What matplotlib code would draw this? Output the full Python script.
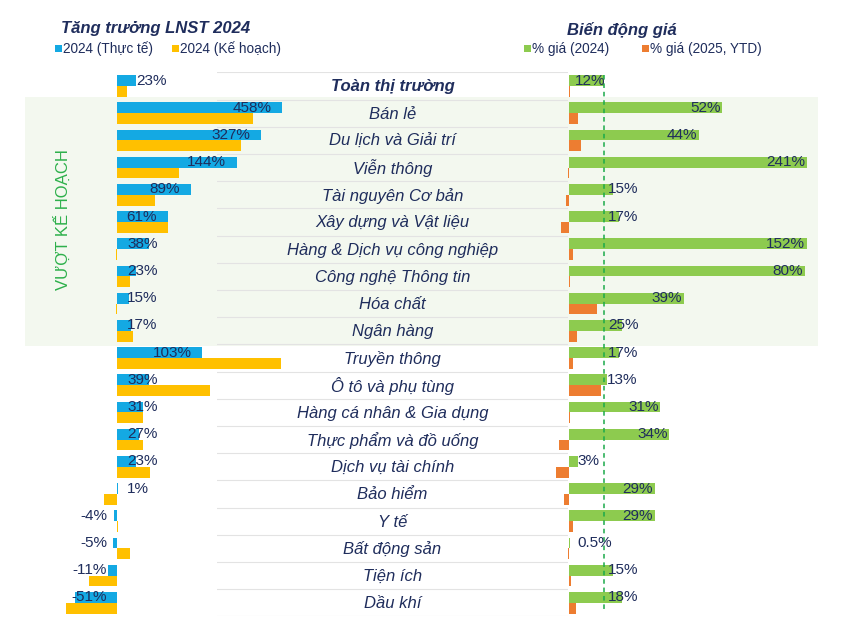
import matplotlib
matplotlib.use('Agg')
import matplotlib.pyplot as plt
from matplotlib.patches import Rectangle
import numpy as np

plt.rcParams['font.family'] = ['Liberation Sans', 'DejaVu Sans']

NAVY = '#1F2D5C'
BLUE = '#14A9E3'
YELLOW = '#FFC000'
GREEN = '#8DCB4F'
ORANGE = '#ED7D31'
BG = '#F3F8EF'

sectors = ['Toàn thị trường', 'Bán lẻ', 'Du lịch và Giải trí', 'Viễn thông', 'Tài nguyên Cơ bản',
           'Xây dựng và Vật liệu', 'Hàng & Dịch vụ công nghiệp', 'Công nghệ Thông tin', 'Hóa chất',
           'Ngân hàng', 'Truyền thông', 'Ô tô và phụ tùng', 'Hàng cá nhân & Gia dụng',
           'Thực phẩm và đồ uống', 'Dịch vụ tài chính', 'Bảo hiểm', 'Y tế', 'Bất động sản',
           'Tiện ích', 'Dầu khí']

# LNST growth 2024: labels and drawn bar lengths (the two largest are shortened in the source)
lnst_actual_label = ['23%', '458%', '327%', '144%', '89%', '61%', '38%', '23%', '15%', '17%',
                     '103%', '39%', '31%', '27%', '23%', '1%', '-4%', '-5%', '-11%', '-51%']
lnst_actual = [23, 199, 174, 144, 89, 61, 38, 23, 15, 17, 103, 39, 31, 27, 23, 1, -4, -5, -11, -51]
lnst_plan = [12, 164, 149, 75, 46, 61, -1, 16, -1, 19, 198, 112, 31, 31, 40, -16, 1, 16, -34, -61]

# price change
gia_2024_label = ['12%', '52%', '44%', '241%', '15%', '17%', '152%', '80%', '39%', '25%',
                  '17%', '13%', '31%', '34%', '3%', '29%', '29%', '0.5%', '15%', '18%']
gia_2024 = [12, 52, 44, 241, 15, 17, 152, 80, 39, 18, 17, 13, 31, 34, 3, 29, 29, 0.5, 15, 18]
gia_2025 = [0.3, 3, 4, -0.3, -1, -2.7, 1.4, 0.2, 9.5, 2.7, 1.3, 11, 0.2, -3.4, -4.4, -1.7, 1.2, -0.5, 0.7, 2.4]

W, H = 864, 625
fig = plt.figure(figsize=(W / 100, H / 100), dpi=100)

n = len(sectors)
y = np.arange(n)
row_h = 27.2
top_px = 86 - 0.5 * row_h
bot_px = 86 + (n - 0.5) * row_h


def px_ax(x0, x1):
    return fig.add_axes([x0 / W, 1 - bot_px / H, (x1 - x0) / W, (bot_px - top_px) / H])


def fy(v):  # row units -> figure fraction
    return 1 - (86 + v * row_h) / H


# green "vượt kế hoạch" band
fig.patches.append(Rectangle((25 / W, fy(9.55)), (818 - 25) / W, fy(0.4) - fy(9.55),
                             transform=fig.transFigure, facecolor=BG, edgecolor='none', zorder=-5))

# middle axis for separators and category names
axm = px_ax(217, 568)
axm.set_xlim(0, 1)
axm.set_ylim(n - 0.5, -0.5)
axm.axis('off')
for k in range(n + 1):
    axm.axhline(k - 0.5, color='#E3E3E3', lw=0.8)
for i, s in enumerate(sectors):
    axm.text(0.5, i + 0.03, s, ha='center', va='center', fontsize=12, style='italic', color=NAVY,
             fontweight='bold' if i == 0 else 'normal')

# left panel
axl = px_ax(40, 300)
axl.set_xlim((40 - 117) / 0.83, (300 - 117) / 0.83)
axl.set_ylim(n - 0.5, -0.5)
axl.axis('off')
axl.barh(y - 0.2, lnst_actual, height=0.4, color=BLUE)
axl.barh(y + 0.2, lnst_plan, height=0.4, color=YELLOW)
for i, (v, lab) in enumerate(zip(lnst_actual, lnst_actual_label)):
    if i == 0:
        axl.text(v + 0.5, i - 0.2, lab, ha='left', va='center', fontsize=11, color=NAVY)
    elif v < 0:
        axl.text(-12, i - 0.2, lab, ha='right', va='center', fontsize=11, color=NAVY, clip_on=False)
    elif v >= 60:
        axl.text(v - 13, i - 0.2, lab, ha='right', va='center', fontsize=11, color=NAVY)
    else:
        axl.text(12, i - 0.2, lab, ha='left', va='center', fontsize=11, color=NAVY)

# right panel
axr = px_ax(540, 807)
axr.set_xlim((540 - 569) / 2.95, (807 - 569) / 2.95)
axr.set_ylim(n - 0.5, -0.5)
axr.axis('off')
axr.barh(y - 0.2, gia_2024, height=0.4, color=GREEN)
axr.barh(y + 0.2, gia_2025, height=0.4, color=ORANGE)
axr.vlines(gia_2024[0], -0.4, n - 0.7, colors='#1BAA4A', linestyles=(0, (3, 2.5)), lw=1.1)
xmax = axr.get_xlim()[1]
for i, (v, lab) in enumerate(zip(gia_2024, gia_2024_label)):
    if i == 0:
        axr.text(v + 0.4, i - 0.2, lab, ha='right', va='center', fontsize=11, color=NAVY, clip_on=False)
    elif v >= 20:
        axr.text(min(v, xmax) - 0.6, i - 0.2, lab, ha='right', va='center', fontsize=11,
                 color=NAVY, clip_on=False)
    else:
        axr.text(min(max(v, 3), 13.3), i - 0.2, lab, ha='left', va='center', fontsize=11,
                 color=NAVY, clip_on=False)

# titles and legends
fig.text(61 / W, 1 - 28 / H, 'Tăng trưởng LNST 2024', fontsize=12, fontweight='bold',
         style='italic', color=NAVY, va='center')
fig.text(567 / W, 1 - 30 / H, 'Biến động giá', fontsize=12, fontweight='bold',
         style='italic', color=NAVY, va='center')

legend_items = [(55, BLUE, '2024 (Thực tế)'), (172, YELLOW, '2024 (Kế hoạch)'),
                (524, GREEN, '% giá (2024)'), (642, ORANGE, '% giá (2025, YTD)')]
for x0, c, t in legend_items:
    fig.patches.append(Rectangle((x0 / W, 1 - 52 / H), 7 / W, 7 / H, transform=fig.transFigure,
                                 facecolor=c, edgecolor='none'))
    fig.text((x0 + 8.5) / W, 1 - 48.5 / H, t, fontsize=9.8, color=NAVY, va='center')

fig.text(62 / W, fy(4.9), 'VƯỢT KẾ HOẠCH', rotation=90, fontsize=12, color='#2DB04B',
         ha='center', va='center')

fig.savefig('out.png', dpi=100, facecolor='white')
